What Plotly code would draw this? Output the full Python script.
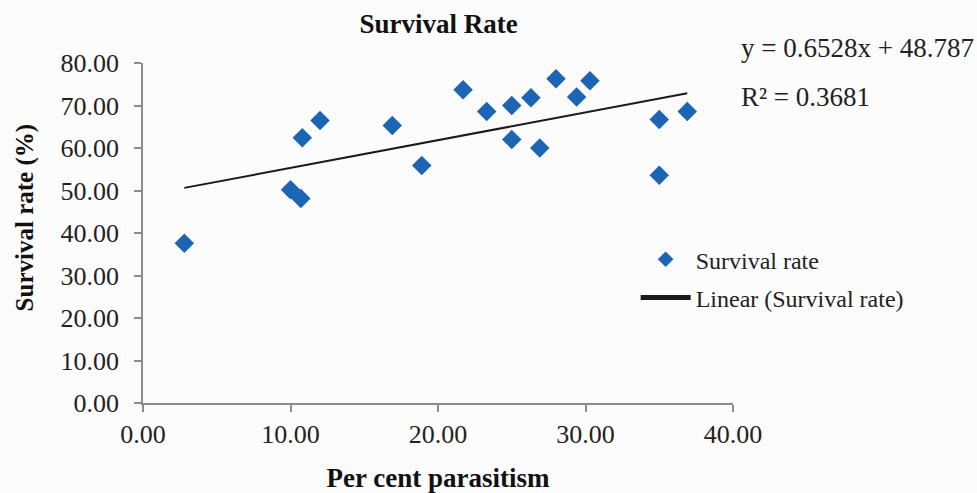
import plotly.graph_objects as go

# Per cent parasitism (x) and survival rate (%) (y) for each sample
parasitism = [2.8, 10.0, 10.7, 10.8, 12.0, 16.9, 18.9, 21.7, 23.3, 25.0,
              25.0, 26.3, 26.9, 28.0, 29.4, 30.3, 35.0, 35.0, 36.9]
survival = [37.6, 50.2, 48.1, 62.4, 66.5, 65.3, 55.9, 73.7, 68.6, 70.0,
            62.0, 71.8, 60.0, 76.3, 72.0, 75.8, 66.7, 53.6, 68.6]

# Linear trend line reported for the series
slope = 0.6528
intercept = 48.787
r_squared = 0.3681

x_ticks = [0, 10, 20, 30, 40]
y_ticks = [0, 10, 20, 30, 40, 50, 60, 70, 80]

serif = "Liberation Serif, Times New Roman, serif"
axis_grey = "#8c8c8c"
text_col = "#222222"

trend_x = [min(parasitism), max(parasitism)]
trend_y = [slope * v + intercept for v in trend_x]

fig = go.Figure()
fig.add_trace(go.Scatter(
    x=parasitism, y=survival, mode="markers", name="Survival rate",
    legendgroup="pts",
    marker=dict(symbol="diamond", size=15, color="#1c64b4", line=dict(width=0)),
))
fig.add_trace(go.Scatter(
    x=trend_x, y=trend_y, mode="lines", name="Linear (Survival rate)",
    legendgroup="fit",
    line=dict(color="#1a1a1a", width=2),
))

fig.update_layout(
    width=977, height=493,
    margin=dict(l=143, r=244, t=63, b=90, pad=0, autoexpand=False),
    paper_bgcolor="#fcfcfc", plot_bgcolor="#fcfcfc",
    font=dict(family=serif, size=24, color=text_col),
    title=dict(text="<b>Survival Rate</b>", x=0.449, xanchor="center",
               y=0.953, yanchor="middle", yref="container",
               font=dict(family=serif, size=27, color="#111111")),
    showlegend=True,
    legend=dict(x=0.835, y=0.488, xanchor="left", yanchor="top",
                xref="paper", yref="paper",
                bgcolor="rgba(0,0,0,0)", tracegroupgap=4,
                itemwidth=50,
                font=dict(family=serif, size=24, color=text_col),
                itemsizing="constant"),
    xaxis=dict(
        range=[0, 40], tickvals=x_ticks,
        ticktext=[f"{v:.2f}" for v in x_ticks],
        showgrid=False, zeroline=False, automargin=False,
        showline=True, linecolor=axis_grey, linewidth=1.5,
        ticks="outside", ticklen=7, tickwidth=1.5, tickcolor=axis_grey,
        tickfont=dict(family=serif, size=26, color=text_col),
        title=dict(text="<b>Per cent parasitism</b>", standoff=29,
                   font=dict(family=serif, size=27, color="#111111")),
    ),
    yaxis=dict(
        range=[0, 80], tickvals=y_ticks,
        ticktext=[f"{v:.2f}" for v in y_ticks],
        showgrid=False, zeroline=False, automargin=False,
        showline=True, linecolor=axis_grey, linewidth=1.5,
        ticks="outside", ticklen=7, tickwidth=1.5, tickcolor=axis_grey,
        ticklabelstandoff=10,
        tickfont=dict(family=serif, size=26, color=text_col),
    ),
    annotations=[
        # y-axis title, sitting slightly above the plot's vertical centre
        dict(text="<b>Survival rate (%)</b>", xref="paper", yref="paper",
             x=-0.2, y=0.543, xanchor="center", yanchor="middle",
             textangle=-90, showarrow=False,
             font=dict(family=serif, size=25, color="#111111")),
        dict(text=f"y = {slope}x + {intercept}", xref="paper", yref="paper",
             x=1.01, y=1.043, xanchor="left", yanchor="middle", showarrow=False,
             font=dict(family=serif, size=27, color=text_col)),
        dict(text=f"R² = {r_squared}", xref="paper", yref="paper",
             x=1.01, y=0.899, xanchor="left", yanchor="middle", showarrow=False,
             font=dict(family=serif, size=27, color=text_col)),
    ],
)

fig.write_html("out.html")
